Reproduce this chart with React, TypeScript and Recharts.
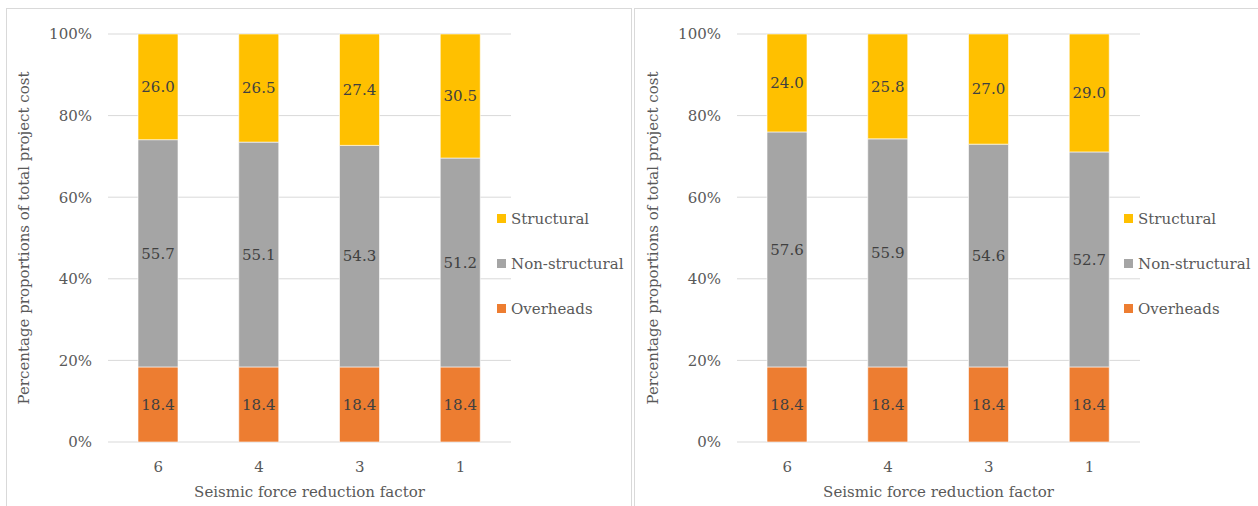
import { Bar, BarChart, CartesianGrid, LabelList, Legend, XAxis, YAxis } from "recharts";

// Seismic force reduction factors (x categories)
const FACTORS = ["6", "4", "3", "1"];

// Cost proportions (%), first scenario
const OVERHEADS_A = [18.4, 18.4, 18.4, 18.4];
const NON_STRUCTURAL_A = [55.7, 55.1, 54.3, 51.2];
const STRUCTURAL_A = [26.0, 26.5, 27.4, 30.5];

// Cost proportions (%), second scenario
const OVERHEADS_B = [18.4, 18.4, 18.4, 18.4];
const NON_STRUCTURAL_B = [57.6, 55.9, 54.6, 52.7];
const STRUCTURAL_B = [24.0, 25.8, 27.0, 29.0];

const Y_TICKS = [0, 20, 40, 60, 80, 100];

const SERIES = [
  { key: "overheads", name: "Overheads", color: "#ED7D31" },
  { key: "nonStructural", name: "Non-structural", color: "#A5A5A5" },
  { key: "structural", name: "Structural", color: "#FFC000" },
];

const FONT = "'DejaVu Serif', serif";
const FONT_SIZE = 15;
const TEXT = "#595959";

function buildRows(over: number[], non: number[], str: number[]) {
  return FACTORS.map((factor, i) => ({
    factor,
    overheads: over[i],
    nonStructural: non[i],
    structural: str[i],
  }));
}

const ROWS_A = buildRows(OVERHEADS_A, NON_STRUCTURAL_A, STRUCTURAL_A);
const ROWS_B = buildRows(OVERHEADS_B, NON_STRUCTURAL_B, STRUCTURAL_B);

function LegendList() {
  const items = [...SERIES].reverse();
  return (
    <div style={{ fontFamily: FONT, fontSize: FONT_SIZE, color: TEXT }}>
      {items.map((s) => (
        <div
          key={s.key}
          style={{ display: "flex", alignItems: "center", height: 45 }}
        >
          <span
            style={{
              width: 9,
              height: 9,
              background: s.color,
              display: "inline-block",
              marginRight: 5,
            }}
          />
          <span>{s.name}</span>
        </div>
      ))}
    </div>
  );
}

type PanelProps = {
  rows: ReturnType<typeof buildRows>;
  width: number;
  yAxisWidth: number;
  marginRight: number;
  titleOffset: number;
  legendLeft: number;
};

function CostPanel({
  rows,
  width,
  yAxisWidth,
  marginRight,
  titleOffset,
  legendLeft,
}: PanelProps) {
  const tickStyle = { fill: TEXT, fontSize: FONT_SIZE, fontFamily: FONT };
  return (
    <BarChart
      width={width}
      height={506}
      data={rows}
      margin={{ top: 34, right: marginRight, left: 0, bottom: 0 }}
      barSize={40}
      style={{ fontFamily: FONT }}
    >
      <CartesianGrid stroke="#d9d9d9" vertical={false} />
      <XAxis
        dataKey="factor"
        axisLine={false}
        tickLine={false}
        tickMargin={13}
        height={64}
        tick={tickStyle}
        label={{
          value: "Seismic  force reduction factor",
          position: "insideBottom",
          offset: 9,
          ...tickStyle,
        }}
      />
      <YAxis
        type="number"
        domain={[0, 100]}
        allowDataOverflow
        ticks={Y_TICKS}
        axisLine={false}
        tickLine={false}
        tickMargin={10}
        width={yAxisWidth}
        tickFormatter={(v: number) => `${v}%`}
        tick={tickStyle}
        label={{
          value: "Percentage proportions of total project cost",
          angle: -90,
          position: "insideLeft",
          offset: titleOffset,
          ...tickStyle,
          style: { textAnchor: "middle" },
        }}
      />
      {/* centred vertical legend does not take room from the plot; placed by wrapperStyle */}
      <Legend
        layout="vertical"
        align="center"
        verticalAlign="middle"
        content={() => <LegendList />}
        wrapperStyle={{ left: legendLeft, top: 196, width: 140, height: 135 }}
      />
      {SERIES.map((s) => (
        <Bar
          key={s.key}
          dataKey={s.key}
          name={s.name}
          stackId="cost"
          fill={s.color}
          stroke="#ffffff"
          strokeWidth={0.6}
          isAnimationActive={false}
        >
          <LabelList
            dataKey={s.key}
            position="center"
            formatter={(v: number) => Number(v).toFixed(1)}
            fill="#404040"
            fontSize={FONT_SIZE}
            fontFamily={FONT}
          />
        </Bar>
      ))}
    </BarChart>
  );
}

export default function App() {
  return (
    <div
      style={{
        position: "absolute",
        left: 0,
        top: 0,
        width: 1258,
        height: 506,
        overflow: "hidden",
        background: "#fff",
        fontFamily: FONT,
      }}
    >
      <div
        style={{
          position: "absolute",
          left: 6,
          top: 8,
          width: 624,
          height: 520,
          border: "1px solid #d9d9d9",
          borderBottom: "none",
        }}
      />
      <div
        style={{
          position: "absolute",
          left: 634,
          top: 8,
          width: 640,
          height: 520,
          border: "1px solid #d9d9d9",
          borderBottom: "none",
        }}
      />
      <div style={{ position: "absolute", left: 0, top: 0 }}>
        <CostPanel
          rows={ROWS_A}
          width={631}
          yAxisWidth={108}
          marginRight={120}
          titleOffset={24}
          legendLeft={497}
        />
      </div>
      <div style={{ position: "absolute", left: 631, top: 0 }}>
        <CostPanel
          rows={ROWS_B}
          width={627}
          yAxisWidth={106}
          marginRight={118}
          titleOffset={22}
          legendLeft={493}
        />
      </div>
    </div>
  );
}
